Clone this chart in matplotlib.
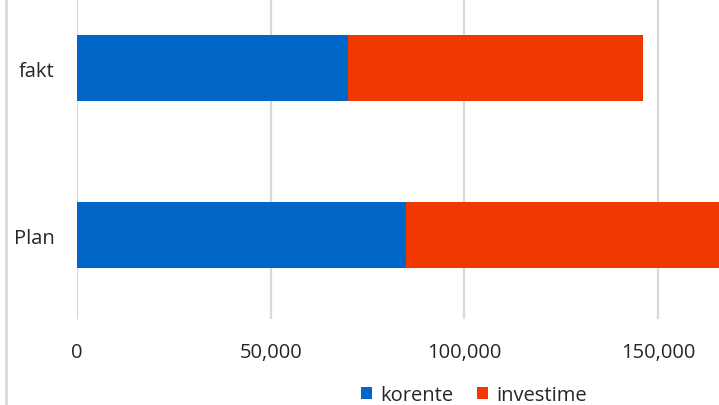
import numpy as np
import matplotlib.pyplot as plt
from matplotlib.lines import Line2D

# data
categories = ["Plan", "fakt"]
korente = [85000, 70000]
investime = [90000, 76000]
series_names = ["korente", "investime"]
tick_values = [0, 50000, 100000, 150000]

blue = "#0066c8"
red = "#f03800"
grid = "#d9d9d9"

plt.rcParams['font.family'] = ['Open Sans', 'DejaVu Sans']

fig = plt.figure(figsize=(7.19, 4.06), dpi=100)
# plot area runs past the right and top edges, like the cropped original
ax = fig.add_axes([77/719, (406-319.5)/406, 775/719, 334/406])

y = np.arange(len(categories))
ax.barh(y, korente, height=0.4, color=blue, label=series_names[0], zorder=3)
ax.barh(y, investime, left=korente, height=0.4, color=red, label=series_names[1], zorder=3)

ax.set_xlim(0, 200000)
ax.set_ylim(-0.5, 1.5)
ax.set_xticks(tick_values)
ax.set_xticklabels([f"{v:,}" for v in tick_values])
ax.set_yticks(y)
ax.set_yticklabels(categories)
ax.grid(axis='x', color=grid, linewidth=1.6, zorder=0)
ax.axvline(200000, color=grid, linewidth=1.6, zorder=0)
for s in ax.spines.values():
    s.set_visible(False)
ax.tick_params(axis='both', length=0, labelsize=14.5, colors='#262626')
ax.tick_params(axis='x', pad=17)
ax.tick_params(axis='y', pad=16)

leg = fig.legend(loc='center', bbox_to_anchor=(474/719, 1-396/406), ncol=2, frameon=False,
                 fontsize=14.5, handlelength=0.55, handleheight=0.55, handletextpad=0.4,
                 columnspacing=1.2)
for t in leg.get_texts():
    t.set_color('#262626')

# thin border line at the left edge of the crop
fig.add_artist(Line2D([6/719, 6/719], [0, 1], color=grid, linewidth=2))

fig.savefig("out.png", dpi=100)
